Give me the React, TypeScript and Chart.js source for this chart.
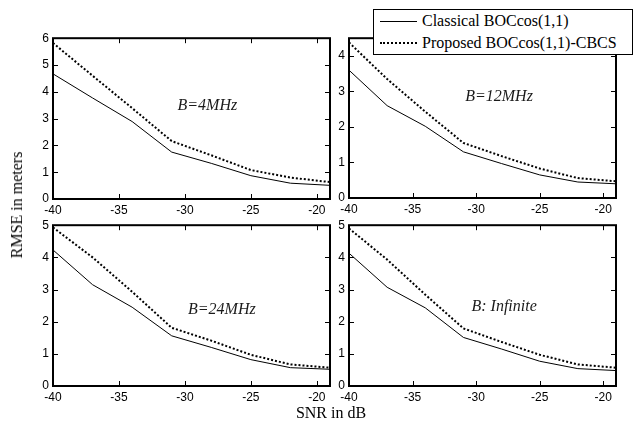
import { useEffect, useRef } from 'react';
import Chart from 'chart.js/auto';

// SNR sample points (dB)
const snrDb = [-40, -37, -34, -31, -28, -25, -22, -19];

// RMSE (m) per front-end bandwidth
const classical4MHz = [4.67, 3.77, 2.89, 1.75, 1.33, 0.87, 0.59, 0.51];
const proposed4MHz = [5.82, 4.6, 3.39, 2.16, 1.63, 1.08, 0.8, 0.63];
const classical12MHz = [3.6, 2.6, 2.02, 1.3, 0.97, 0.65, 0.45, 0.4];
const proposed12MHz = [4.38, 3.35, 2.43, 1.55, 1.18, 0.83, 0.56, 0.47];
const classical24MHz = [4.23, 3.15, 2.45, 1.56, 1.2, 0.82, 0.57, 0.52];
const proposed24MHz = [4.93, 4.0, 2.93, 1.81, 1.41, 0.97, 0.67, 0.57];
const classicalInfinite = [4.13, 3.07, 2.43, 1.51, 1.15, 0.77, 0.54, 0.48];
const proposedInfinite = [4.9, 3.93, 2.84, 1.79, 1.37, 0.97, 0.67, 0.57];

const seriesNames = ['Classical BOCcos(1,1)', 'Proposed BOCcos(1,1)-CBCS'];
const panelNotes = ['B=4MHz', 'B=12MHz', 'B=24MHz', 'B: Infinite'];
const xTickValues = [-40, -35, -30, -25, -20];
const xRange = [-40, -19];

type Rect = { l: number; t: number; r: number; b: number };

type PanelSpec = {
  classical: number[];
  proposed: number[];
  note: string;
  notePos: [number, number];
  yMax: number;
  rect: Rect;
};

const panels: PanelSpec[] = [
  { classical: classical4MHz, proposed: proposed4MHz, note: panelNotes[0], notePos: [-28.3, 3.47], yMax: 6, rect: { l: 53, t: 35, r: 330, b: 199 } },
  { classical: classical12MHz, proposed: proposed12MHz, note: panelNotes[1], notePos: [-28.2, 2.85], yMax: 4.5, rect: { l: 349, t: 35, r: 616, b: 198 } },
  { classical: classical24MHz, proposed: proposed24MHz, note: panelNotes[2], notePos: [-27.2, 2.37], yMax: 5, rect: { l: 53, t: 222, r: 330, b: 386 } },
  { classical: classicalInfinite, proposed: proposedInfinite, note: panelNotes[3], notePos: [-27.8, 2.47], yMax: 5, rect: { l: 349, t: 222, r: 616, b: 386 } },
];

const PAD_L = 45;
const PAD_T = 8;
const PAD_R = 10;
const PAD_B = 26;

const tickFont = { family: '"Liberation Sans", Arial, sans-serif', size: 12 };

function Panel({ spec }: { spec: PanelSpec }) {
  const ref = useRef<HTMLCanvasElement>(null);
  const { rect } = spec;
  const width = rect.r - rect.l + PAD_L + PAD_R;
  const height = rect.b - rect.t + PAD_T + PAD_B;

  useEffect(() => {
    // boxed axes with inward ticks on all four sides, plus the bandwidth note
    const framePlugin = {
      id: 'boxFrame',
      afterDatasetsDraw(chart: any) {
        const { ctx, chartArea } = chart;
        const xs = chart.scales.x;
        const ys = chart.scales.y;
        const { left, right, top, bottom } = chartArea;
        ctx.save();
        ctx.strokeStyle = '#000';
        ctx.lineWidth = 1;
        ctx.beginPath();
        xs.ticks.forEach((t: any) => {
          const px = Math.round(xs.getPixelForValue(t.value)) + 0.5;
          ctx.moveTo(px, bottom);
          ctx.lineTo(px, bottom - 5);
          ctx.moveTo(px, top);
          ctx.lineTo(px, top + 5);
        });
        ys.ticks.forEach((t: any) => {
          const py = Math.round(ys.getPixelForValue(t.value)) + 0.5;
          ctx.moveTo(left, py);
          ctx.lineTo(left + 5, py);
          ctx.moveTo(right, py);
          ctx.lineTo(right - 5, py);
        });
        ctx.stroke();
        ctx.lineWidth = 2;
        ctx.strokeRect(left, top, right - left, bottom - top);

        ctx.fillStyle = '#1a1a1a';
        ctx.font = 'italic 16px "Liberation Serif", "Times New Roman", serif';
        ctx.textAlign = 'center';
        ctx.textBaseline = 'middle';
        ctx.fillText(
          spec.note,
          xs.getPixelForValue(spec.notePos[0]),
          ys.getPixelForValue(spec.notePos[1])
        );
        ctx.restore();
      },
    };

    const chart = new Chart(ref.current as HTMLCanvasElement, {
      type: 'line',
      data: {
        datasets: [
          {
            label: seriesNames[0],
            data: snrDb.map((x, i) => ({ x, y: spec.classical[i] })),
            borderColor: '#000',
            borderWidth: 1,
            pointRadius: 0,
            tension: 0,
            fill: false,
          },
          {
            label: seriesNames[1],
            data: snrDb.map((x, i) => ({ x, y: spec.proposed[i] })),
            borderColor: '#000',
            borderWidth: 2,
            borderDash: [2, 2],
            pointRadius: 0,
            tension: 0,
            fill: false,
          },
        ],
      },
      options: {
        animation: false,
        responsive: false,
        events: [],
        layout: { padding: { left: 0, top: PAD_T, right: PAD_R, bottom: 0 } },
        plugins: { legend: { display: false }, tooltip: { enabled: false } },
        scales: {
          x: {
            type: 'linear',
            min: xRange[0],
            max: xRange[1],
            grid: { display: false, drawTicks: false },
            border: { display: false },
            ticks: { font: tickFont, color: '#000', padding: 4, maxRotation: 0, autoSkip: false },
            afterBuildTicks: (s: any) => {
              s.ticks = xTickValues.map((v) => ({ value: v }));
            },
            afterFit: (s: any) => {
              s.height = PAD_B;
            },
          },
          y: {
            type: 'linear',
            min: 0,
            max: spec.yMax,
            grid: { display: false, drawTicks: false },
            border: { display: false },
            ticks: { font: tickFont, color: '#000', padding: 4, stepSize: 1 },
            afterBuildTicks: (s: any) => {
              s.ticks = s.ticks.filter((t: any) => Number.isInteger(t.value));
            },
            afterFit: (s: any) => {
              s.width = PAD_L;
            },
          },
        },
      },
      plugins: [framePlugin],
    } as any);
    return () => chart.destroy();
  }, []);

  return (
    <canvas
      ref={ref}
      width={width}
      height={height}
      style={{
        position: 'absolute',
        left: rect.l - PAD_L,
        top: rect.t - PAD_T,
        width,
        height,
      }}
    />
  );
}

const serif = '"Liberation Serif", "Times New Roman", serif';

export default function App() {
  return (
    <div
      style={{
        position: 'fixed',
        left: 0,
        top: 0,
        width: 633,
        height: 423,
        background: '#fff',
        overflow: 'hidden',
      }}
    >
      {panels.map((p, i) => (
        <Panel key={i} spec={p} />
      ))}

      {/* shared axis titles */}
      <div
        style={{
          position: 'absolute',
          left: 17,
          top: 205,
          transform: 'translate(-50%, -50%) rotate(-90deg)',
          whiteSpace: 'nowrap',
          font: `16px ${serif}`,
          color: '#000',
        }}
      >
        RMSE in meters
      </div>
      <div
        style={{
          position: 'absolute',
          left: 331,
          top: 413,
          transform: 'translate(-50%, -50%)',
          whiteSpace: 'nowrap',
          font: `16px ${serif}`,
          color: '#000',
        }}
      >
        SNR in dB
      </div>

      {/* legend box */}
      <div
        style={{
          position: 'absolute',
          left: 373,
          top: 9,
          width: 258,
          height: 44,
          border: '1px solid #000',
          background: '#fff',
          zIndex: 5,
        }}
      >
        <div style={{ position: 'absolute', left: 6, top: 11, width: 37, borderTop: '1px solid #000' }} />
        <div
          style={{
            position: 'absolute',
            left: 48,
            top: 11,
            transform: 'translateY(-50%)',
            whiteSpace: 'nowrap',
            font: `16px ${serif}`,
            color: '#000',
          }}
        >
          {seriesNames[0]}
        </div>
        <div style={{ position: 'absolute', left: 6, top: 32, width: 37, borderTop: '2px dotted #000' }} />
        <div
          style={{
            position: 'absolute',
            left: 48,
            top: 33,
            transform: 'translateY(-50%)',
            whiteSpace: 'nowrap',
            font: `16px ${serif}`,
            color: '#000',
          }}
        >
          {seriesNames[1]}
        </div>
      </div>
    </div>
  );
}
